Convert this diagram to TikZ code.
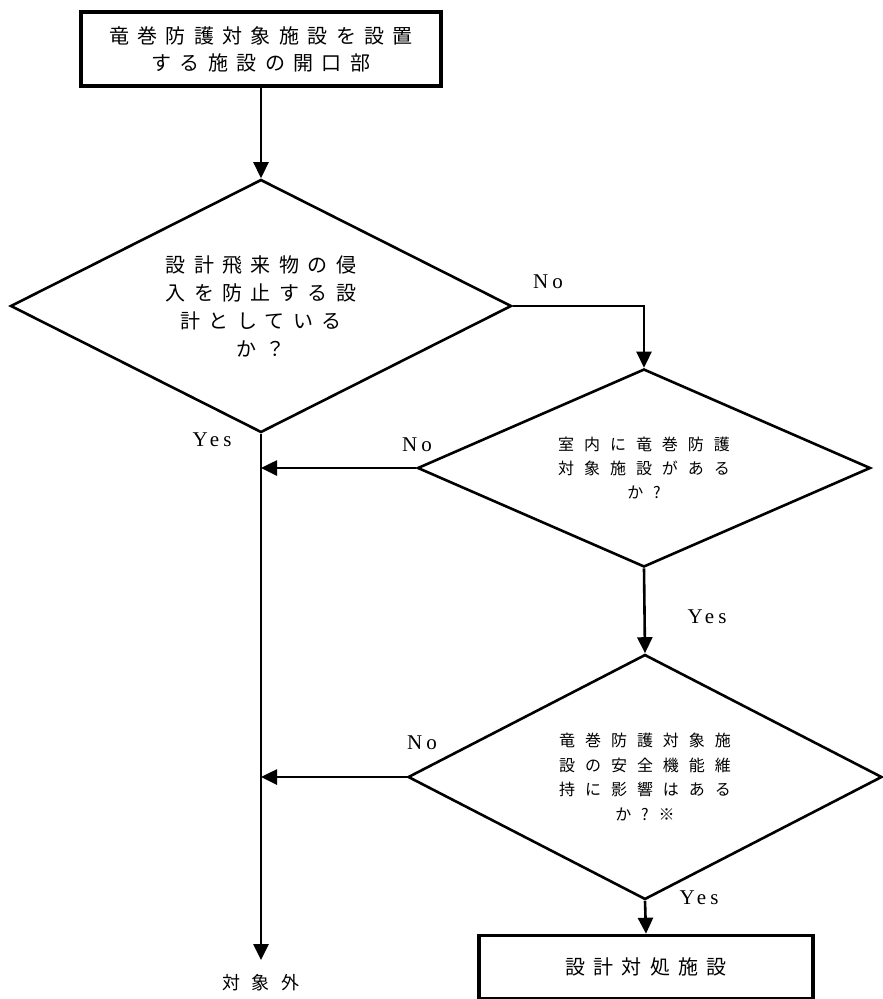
\documentclass[tikz,border=0pt]{standalone}
\usepackage{fontspec}
\setmainfont{Liberation Serif}
\newfontfamily\jpfont[LetterSpace=42]{Noto Sans CJK JP}
\newfontfamily\jpwide[LetterSpace=62]{Noto Sans CJK JP}
\newfontfamily\latfont[LetterSpace=20]{Liberation Serif}
\usetikzlibrary{arrows.meta, positioning, shapes.geometric}

\begin{document}
\begin{tikzpicture}[
    x=1pt, y=-1pt,
    every node/.style={inner sep=0pt},
    proc/.style={draw, line width=3.5pt, minimum width=360pt, minimum height=74pt, align=center, font=\jpfont\fontsize{20}{27}\selectfont},
    ask/.style={draw, diamond, line width=2.6pt, align=center, aspect=2},
    arr/.style={-{Triangle[length=16pt, width=15pt]}, line width=2.6pt},
    lbl/.style={font=\latfont\fontsize{21}{22}\selectfont}
]
\useasboundingbox (0,0) rectangle (883,999);

% start
\node[proc] (start) at (261,49) {竜巻防護対象施設を設置\\する施設の開口部};

% decisions
\node[ask, minimum width=501pt, minimum height=253pt, font=\jpfont\fontsize{20}{28}\selectfont] (intrude) at (261,306) {設計飛来物の侵\\入を防止する設\\計としている\\か？};
\node[ask, minimum width=453pt, minimum height=198pt, font=\jpwide\fontsize{16}{24}\selectfont] (room) at (644,468) {室内に竜巻防護\\対象施設がある\\か?};
\node[ask, minimum width=474pt, minimum height=245pt, font=\jpwide\fontsize{16}{24.5}\selectfont] (safety) at (645,777) {竜巻防護対象施\\設の安全機能維\\持に影響はある\\か?※};

% results
\node[proc, minimum width=334pt, minimum height=63pt] (design) at (646,967) {設計対処施設};
\node[anchor=north, font=\jpwide\fontsize{18}{20}\selectfont] (outside) at (261,974) {対象外};

% connectors
\draw[arr] (start.south) -- (intrude.north);
\draw[arr] (intrude.east) -| (room.north);
\draw[arr] (intrude.south) -- ([yshift=14pt]outside.north);
\draw[arr] (room.west) -- (room.west -| intrude.south);
\draw[arr] (room.south) -- (safety.north);
\draw[arr] (safety.west) -- (safety.west -| intrude.south);
\draw[arr] (safety.south) -- (design.north);

% labels
\node[lbl] (yes1) at (212,440) {Yes};
\node[lbl] (no1) at (548,282) {No};
\node[lbl] (no2) at (417,445) {No};
\node[lbl] (yes2) at (707,617) {Yes};
\node[lbl] (no3) at (422,743) {No};
\node[lbl] (yes3) at (699,898) {Yes};

\end{tikzpicture}
\end{document}
